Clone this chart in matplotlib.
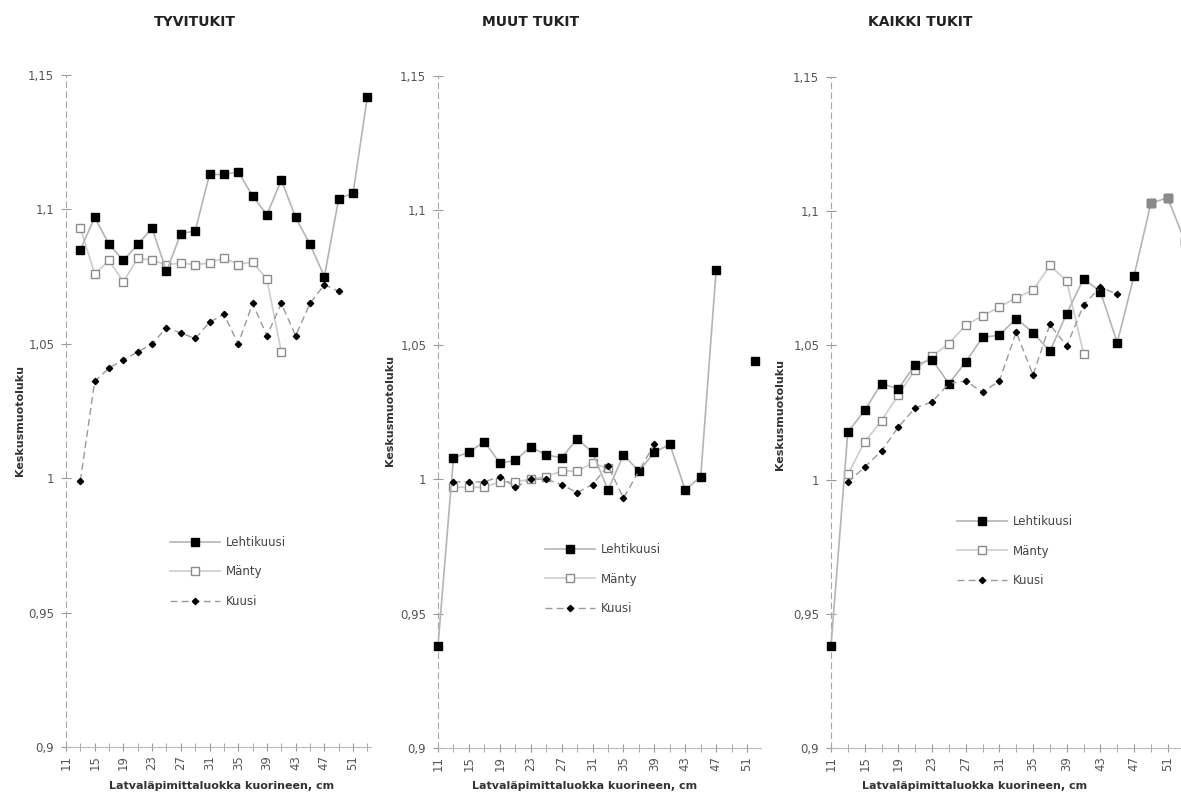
import numpy as np
import matplotlib.pyplot as plt
from matplotlib.ticker import FixedLocator, FuncFormatter

W, H = 1181, 795

# diameter classes (cm)
tyvi_x_lehti = np.arange(13, 54, 2)
tyvi_x_manty = np.arange(13, 42, 2)
tyvi_x_kuusi = np.arange(13, 50, 2)

# TYVITUKIT
tyvi_lehti = [1.085, 1.097, 1.087, 1.081, 1.087, 1.093, 1.077, 1.091, 1.092, 1.113,
              1.113, 1.114, 1.105, 1.098, 1.111, 1.097, 1.087, 1.075, 1.104, 1.106, 1.142]
tyvi_manty = [1.093, 1.076, 1.081, 1.073, 1.082, 1.081, 1.0795, 1.080, 1.0795, 1.080,
              1.082, 1.0795, 1.0805, 1.074, 1.047]
tyvi_kuusi = [0.999, 1.036, 1.041, 1.044, 1.047, 1.050, 1.056, 1.054, 1.052, 1.058,
              1.061, 1.050, 1.065, 1.053, 1.065, 1.053, 1.065, 1.072, 1.0695]

# MUUT TUKIT
muut_x_lehti = [11, 13, 15, 17, 19, 21, 23, 25, 27, 29, 31, 33, 35, 37, 39, 41, 43, 45, 47, 49, 52]
muut_lehti = [0.938, 1.008, 1.010, 1.014, 1.006, 1.007, 1.012, 1.009, 1.008, 1.015, 1.010,
              0.996, 1.009, 1.003, 1.010, 1.013, 0.996, 1.001, 1.078, np.nan, 1.044]
muut_x_manty = np.arange(13, 34, 2)
muut_manty = [0.997, 0.997, 0.997, 0.999, 0.999, 1.000, 1.001, 1.003, 1.003, 1.006, 1.004]
muut_x_kuusi = np.arange(13, 40, 2)
muut_kuusi = [0.999, 0.999, 0.999, 1.001, 0.997, 1.000, 1.000, 0.998, 0.995, 0.998,
              1.005, 0.993, 1.003, 1.013]

# KAIKKI TUKIT
kaikki_x_lehti = np.arange(11, 54, 2)
kaikki_lehti = [0.938, 1.0177, 1.0258, 1.0358, 1.0338, 1.0428, 1.0447, 1.0358, 1.0438, 1.053,
                1.0538, 1.060, 1.0548, 1.0478, 1.0618, 1.0749, 1.070, 1.051, 1.076, 1.103,
                1.105, 1.089]
kaikki_x_manty = np.arange(13, 42, 2)
kaikki_manty = [1.002, 1.014, 1.022, 1.0315, 1.041, 1.046, 1.0507, 1.0575, 1.061, 1.0643,
                1.0678, 1.0705, 1.0798, 1.074, 1.0469]
kaikki_x_kuusi = np.arange(13, 46, 2)
kaikki_kuusi = [0.999, 1.0047, 1.0107, 1.0196, 1.0267, 1.0289, 1.0358, 1.0367, 1.0326,
                1.0367, 1.055, 1.0389, 1.0578, 1.0498, 1.065, 1.0718, 1.069]

titles = ["TYVITUKIT", "MUUT TUKIT", "KAIKKI TUKIT"]
labels = ["Lehtikuusi", "Mänty", "Kuusi"]
xtick_labels = list(range(11, 52, 4))
ytick_vals = [0.9, 0.95, 1.0, 1.05, 1.1, 1.15]

LINE_L = "#b4b4b4"
LINE_M = "#cdcdcd"
LINE_K = "#9a9a9a"


def px_axes(fig, x0, x1, y_top, y_bot):
    return fig.add_axes([x0 / W, 1 - y_bot / H, (x1 - x0) / W, (y_bot - y_top) / H])


def comma(v, pos):
    s = ("%.2f" % v).rstrip("0").rstrip(".")
    return s.replace(".", ",")


def style_axes(ax, xlim):
    ax.set_xlim(*xlim)
    ax.set_ylim(0.9, 1.15)
    for s in ["top", "right"]:
        ax.spines[s].set_visible(False)
    ax.spines["left"].set_color("#a8a8a8")
    ax.spines["left"].set_linestyle((0, (5, 4)))
    ax.spines["bottom"].set_color("#b8b8b8")
    ax.xaxis.set_major_locator(FixedLocator(xtick_labels))
    ax.xaxis.set_minor_locator(FixedLocator(range(13, 54, 4)))
    ax.yaxis.set_major_locator(FixedLocator(ytick_vals))
    ax.yaxis.set_major_formatter(FuncFormatter(comma))
    ax.tick_params(axis="x", which="both", direction="inout", length=6, color="#999999",
                   labelrotation=90, labelsize=8.5, labelcolor="#555555", pad=3)
    ax.tick_params(axis="y", direction="inout", length=7, color="#999999",
                   labelsize=8.5, labelcolor="#555555", pad=5)


def draw(ax, xl, yl, xm, ym, xk, yk):
    ax.plot(xl, yl, color=LINE_L, lw=1.2, marker="s", ms=5.5, mfc="black", mec="black",
            clip_on=False, zorder=3, label=labels[0])
    ax.plot(xm, ym, color=LINE_M, lw=1.2, marker="s", ms=5.5, mfc="white", mec="#8c8c8c",
            clip_on=False, zorder=2, label=labels[1])
    ax.plot(xk, yk, color=LINE_K, lw=1.0, ls=(0, (5, 3)), marker="D", ms=3.2, mfc="black",
            mec="black", clip_on=False, zorder=4, label=labels[2])


def legend(ax, x, y):
    ax.legend(loc="center left", bbox_to_anchor=(x / W, 1 - y / H),
              bbox_transform=ax.figure.transFigure, frameon=False, fontsize=8.5,
              handlelength=4.2, handletextpad=0.55, labelspacing=1.4,
              borderpad=0, borderaxespad=0, labelcolor="#444444")


fig = plt.figure(figsize=(W / 100, H / 100), dpi=100)
fig.patch.set_facecolor("white")

ax1 = px_axes(fig, 66, 371, 75, 747)
style_axes(ax1, (11, 53.5))
draw(ax1, tyvi_x_lehti, tyvi_lehti, tyvi_x_manty, tyvi_manty, tyvi_x_kuusi, tyvi_kuusi)
legend(ax1, 170, 572)

ax2 = px_axes(fig, 438, 761, 76, 748)
style_axes(ax2, (11, 52.8))
draw(ax2, muut_x_lehti, muut_lehti, muut_x_manty, muut_manty, muut_x_kuusi, muut_kuusi)
legend(ax2, 545, 579)

ax3 = px_axes(fig, 831, 1193, 77, 748)
style_axes(ax3, (11, 54))
draw(ax3, kaikki_x_lehti, kaikki_lehti, kaikki_x_manty, kaikki_manty,
     kaikki_x_kuusi, kaikki_kuusi)
# last two measured classes printed in grey
ax3.plot(kaikki_x_lehti[19:21], kaikki_lehti[19:21], ls="none", marker="s", ms=5.5,
         mfc="#8a8a8a", mec="#8a8a8a", zorder=5, clip_on=False)
legend(ax3, 957, 551)

# titles and axis titles
for x, t in zip([195, 531, 920], titles):
    fig.text(x / W, 1 - 22 / H, t, ha="center", va="center", fontsize=10,
             fontweight="bold", color="#222222")
for x, y in [(20, 420), (390, 410), (780, 414)]:
    fig.text(x / W, 1 - y / H, "Keskusmuotoluku", rotation=90, ha="center", va="center",
             fontsize=8, fontweight="bold", color="#333333")
for x in [222, 585, 975]:
    fig.text(x / W, 1 - 786 / H, "Latvaläpimittaluokka kuorineen, cm", ha="center",
             va="center", fontsize=8, fontweight="bold", color="#333333")

fig.savefig("out.png", dpi=100)
